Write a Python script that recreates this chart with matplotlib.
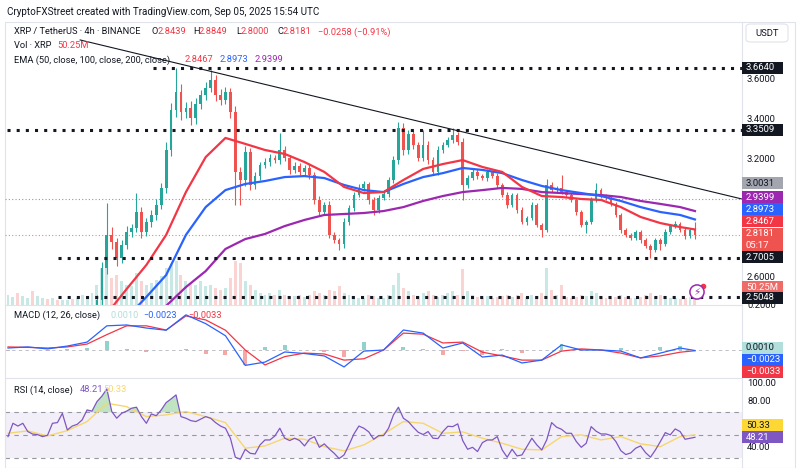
import matplotlib
matplotlib.use('Agg')
import matplotlib.pyplot as plt
from matplotlib.patches import Rectangle, FancyBboxPatch
from matplotlib.lines import Line2D
import numpy as np

plt.rcParams['font.family'] = ['Roboto', 'DejaVu Sans']

W, H = 800, 468

# ---- price data (4h candles, XRP/USDT) ----
first_open = 2.19
closes = [2.20, 2.21, 2.19, 2.22, 2.24, 2.23, 2.26, 2.28, 2.27, 2.30,
          2.29, 2.31, 2.33, 2.32, 2.35, 2.38, 2.40, 2.43, 2.490, 2.652,
          2.819, 2.783, 2.702, 2.768, 2.834, 2.854, 2.935, 2.834, 2.884, 2.920,
          2.971, 3.057, 3.249, 3.451, 3.542, 3.441, 3.461, 3.411, 3.482, 3.527,
          3.563, 3.603, 3.527, 3.502, 3.542, 3.441, 3.138, 3.097, 3.239, 3.072,
          3.117, 3.173, 3.188, 3.209, 3.198, 3.249, 3.209, 3.148, 3.168, 3.138,
          3.158, 3.122, 2.996, 2.935, 2.971, 2.819, 2.793, 2.773, 2.884, 2.955,
          3.021, 3.057, 3.077, 2.996, 2.945, 3.006, 3.026, 3.097, 3.198, 3.360,
          3.249, 3.330, 3.274, 3.209, 3.274, 3.198, 3.138, 3.249, 3.274, 3.300,
          3.325, 3.290, 3.072, 3.107, 3.138, 3.117, 3.107, 3.138, 3.117, 3.072,
          3.021, 2.971, 3.021, 2.945, 2.884, 2.905, 2.971, 2.869, 2.844, 3.072,
          3.046, 3.057, 3.036, 3.021, 2.996, 2.935, 2.869, 2.884, 2.996, 3.046,
          3.016, 3.006, 2.976, 2.920, 2.844, 2.819, 2.803, 2.834, 2.793, 2.763,
          2.743, 2.793, 2.773, 2.834, 2.864, 2.874, 2.844, 2.814, 2.8439, 2.8181]
# wick sizes above / below the body, in thousandths of a USDT
wick_up = [12, 8, 15, 10, 9, 14, 11, 8, 13, 10, 12, 9, 15, 11, 10, 13, 18, 20,
           25, 30, 162, 40, 20, 25, 30, 20, 96, 25, 20, 25,
           30, 25, 40, 35, 122, 40, 30, 35, 30, 25,
           30, 51, 25, 30, 25, 20, 30, 25, 30, 20,
           20, 15, 18, 20, 15, 86, 20, 15, 18, 15,
           15, 20, 15, 18, 15, 20, 15, 12, 20, 15,
           15, 18, 15, 12, 15, 15, 18, 15, 20, 30,
           25, 20, 18, 15, 76, 20, 15, 20, 18, 15,
           35, 15, 20, 15, 18, 15, 12, 15, 12, 15,
           12, 15, 12, 10, 15, 12, 15, 10, 12, 30,
           15, 12, 65, 12, 10, 12, 10, 12, 15, 36,
           12, 10, 12, 10, 12, 8, 10, 12, 10, 8,
           10, 12, 10, 15, 12, 15, 10, 12, 10, 41]
wick_dn = [10, 12, 9, 11, 14, 10, 8, 12, 10, 13, 9, 11, 10, 12, 8, 10, 12, 15,
           20, 25, 30, 35, 40, 25, 20, 25, 20, 30, 20, 25,
           25, 20, 25, 30, 35, 40, 30, 35, 30, 25,
           25, 20, 30, 25, 20, 30, 167, 126, 30, 25,
           20, 18, 15, 18, 15, 20, 15, 18, 15, 18,
           15, 18, 20, 18, 15, 18, 15, 30, 18, 15,
           15, 12, 15, 18, 25, 15, 12, 15, 15, 20,
           25, 18, 20, 15, 15, 20, 18, 15, 15, 12,
           15, 18, 76, 15, 12, 15, 12, 15, 12, 15,
           12, 15, 12, 15, 12, 15, 10, 12, 35, 12,
           12, 10, 12, 10, 12, 15, 12, 40, 12, 10,
           12, 10, 12, 10, 15, 12, 10, 12, 15, 10,
           42, 12, 30, 12, 10, 12, 10, 15, 12, 18]
volume_m = [30, 25, 35, 28, 22, 40, 26, 20, 18, 22, 15, 16, 14, 18, 20, 30, 25, 35,
            60, 110, 120, 80, 90, 70, 60, 55, 95, 70, 60, 65,
            75, 85, 110, 120, 130, 90, 70, 65, 60, 70,
            55, 60, 50, 45, 50, 80, 130, 125, 70, 60,
            45, 35, 30, 35, 30, 45, 30, 25, 28, 30,
            25, 30, 40, 35, 30, 45, 40, 55, 35, 30,
            25, 20, 22, 30, 28, 22, 20, 30, 60, 95,
            50, 40, 30, 28, 35, 40, 30, 25, 30, 35,
            40, 30, 105, 40, 30, 25, 22, 28, 20, 25,
            28, 30, 25, 30, 35, 25, 30, 28, 35, 110,
            45, 30, 60, 25, 22, 25, 30, 28, 40, 35,
            25, 20, 22, 25, 30, 25, 20, 22, 25, 30,
            35, 25, 30, 28, 22, 20, 18, 20, 25, 50.25]

# indicators sampled every 4th candle (plus the last one)
ind_idx = list(range(0, 140, 4)) + [139]
ema50 = [2.20, 2.22, 2.25, 2.29, 2.33, 2.42, 2.545, 2.667, 2.819, 3.036,
         3.213, 3.31, 3.28, 3.249, 3.229, 3.188, 3.138, 3.062, 3.031, 3.036,
         3.097, 3.153, 3.178, 3.198, 3.163, 3.138, 3.062, 3.016, 3.011, 3.001,
         2.996, 2.960, 2.910, 2.879, 2.859, 2.8467]
ema100 = [2.15, 2.17, 2.19, 2.22, 2.25, 2.30, 2.40, 2.505, 2.616, 2.819,
          2.960, 3.046, 3.077, 3.092, 3.112, 3.117, 3.107, 3.072, 3.046, 3.036,
          3.077, 3.112, 3.132, 3.158, 3.148, 3.132, 3.097, 3.067, 3.046, 3.031,
          3.016, 2.991, 2.960, 2.935, 2.920, 2.8973]
ema200 = [2.10, 2.11, 2.12, 2.14, 2.16, 2.24, 2.30, 2.36, 2.46, 2.555,
          2.636, 2.748, 2.798, 2.824, 2.864, 2.895, 2.920, 2.925, 2.930, 2.940,
          2.960, 2.991, 3.016, 3.036, 3.046, 3.057, 3.052, 3.036, 3.031, 3.026,
          3.021, 3.011, 2.991, 2.976, 2.960, 2.9399]
macd_line = [0.009, 0.014, 0.005, 0.018, 0.036, 0.110, 0.114, 0.100, 0.090, 0.160,
             0.120, 0.065, -0.070, -0.055, -0.009, -0.016, -0.027, -0.077, -0.005, 0.000,
             0.091, 0.077, 0.009, 0.032, -0.032, -0.023, -0.059, -0.046, 0.023, 0.000,
             0.000, -0.005, -0.036, -0.014, 0.009, -0.0023]
macd_signal = [0.014, 0.012, 0.009, 0.014, 0.027, 0.070, 0.110, 0.110, 0.091, 0.155,
               0.137, 0.090, 0.000, -0.068, -0.030, -0.014, -0.018, -0.046, -0.040, 0.000,
               0.077, 0.072, 0.032, 0.036, -0.010, -0.027, -0.046, -0.046, -0.005, 0.005,
               0.000, -0.014, -0.036, -0.027, -0.010, -0.0033]
rsi = [48.8, 60.4, 58.0, 60.4, 53.2, 51.0, 50.5, 48.8, 50.0, 60.4,
       61.0, 69.0, 54.6, 58.0, 59.5, 63.3, 72.0, 71.0, 79.3, 84.0,
       90.3, 70.6, 64.8, 69.1, 71.0, 73.5, 74.4, 66.2, 60.4, 68.5,
       67.0, 72.0, 78.4, 81.6, 85.1, 66.2, 64.8, 62.7, 61.9, 64.0,
       66.2, 64.8, 61.0, 58.0, 56.1, 47.4, 30.9, 29.1, 37.8, 34.3,
       33.7, 41.6, 45.9, 45.9, 49.4, 56.1, 47.4, 45.4, 47.4, 45.4,
       40.7, 46.5, 48.8, 39.5, 42.5, 38.1, 34.3, 29.7, 32.9, 41.6,
       51.1, 58.0, 56.1, 52.9, 46.5, 49.7, 49.7, 56.1, 67.7, 74.4,
       64.8, 61.9, 57.0, 52.6, 50.6, 53.2, 47.4, 47.1, 53.2, 57.8,
       57.5, 59.9, 45.4, 37.8, 39.5, 35.8, 43.6, 45.9, 45.9, 48.8,
       37.2, 30.9, 37.8, 32.0, 32.9, 40.1, 47.4, 41.6, 37.2, 45.9,
       61.0, 57.0, 55.2, 51.7, 51.7, 44.5, 39.5, 43.0, 57.5, 53.5,
       51.1, 51.1, 49.7, 44.5, 36.6, 33.2, 34.6, 38.7, 40.7, 34.9,
       30.9, 37.2, 44.5, 52.3, 50.3, 55.5, 53.2, 46.5, 47.4, 48.21]
rsi_ma = [51.7, 53.8, 49.4, 54.0, 61.9, 77.8, 74.9, 66.2, 67.7, 70.6,
          66.2, 61.0, 38.7, 40.7, 47.4, 46.5, 40.1, 36.4, 41.6, 51.1,
          61.9, 60.4, 51.7, 52.9, 47.4, 43.0, 37.8, 37.2, 48.8, 50.3,
          45.9, 48.8, 42.5, 40.1, 48.8, 50.33]

# drawn levels
bold_levels = [3.6640, 3.3509, 2.7005, 2.5048]
bold_level_start = [29.3, -0.2, 10.1, 10.1]
gray_level = 3.0031
trend_x = [14.6, 148.5]
trend_y = [3.806, 3.001]

UP, DOWN = '#26a69a', '#ef5350'
TXT = '#131722'
XLIM = (-0.607, 148.52)


def px_box(left, top, right, bottom):
    return [left / W, 1 - bottom / H, (right - left) / W, (bottom - top) / H]


def fy(ypx):
    return 1 - ypx / H


fig = plt.figure(figsize=(8, 4.68), dpi=100)
fig.patch.set_facecolor('white')

ax = fig.add_axes(px_box(5, 22, 742, 305))
ax_vol = ax.twinx()
ax_macd = fig.add_axes(px_box(5, 305, 742, 378))
ax_rsi = fig.add_axes(px_box(5, 378, 742, 468))
ax.set_zorder(ax_vol.get_zorder() + 1)
for a in (ax, ax_vol, ax_macd, ax_rsi):
    a.set_axis_off()
    a.set_xlim(*XLIM)

# ---- main pane ----
idx = np.arange(len(closes))
c = np.array(closes)
o = np.array([first_open] + closes[:-1])
hi = np.maximum(o, c) + np.array(wick_up) / 1000
lo = np.minimum(o, c) - np.array(wick_dn) / 1000
colors = [UP if cc >= oo else DOWN for oo, cc in zip(o, c)]

ax_vol.bar(idx, volume_m, width=0.6, color=colors, alpha=0.25, linewidth=0)
ax_vol.set_ylim(0, 836)

ax.vlines(idx, lo, hi, colors=colors, lw=0.8, zorder=3)
ax.bar(idx, np.maximum(np.abs(c - o), 0.003), bottom=np.minimum(o, c),
       width=0.55, color=colors, linewidth=0, zorder=4)

ax.plot(ind_idx, ema200, color='#9c27b0', lw=1.6, zorder=5)
ax.plot(ind_idx, ema100, color='#2962ff', lw=1.6, zorder=5)
ax.plot(ind_idx, ema50, color='#f23645', lw=1.6, zorder=5)

for lvl, x0 in zip(bold_levels, bold_level_start):
    ax.hlines(lvl, x0, XLIM[1], colors=TXT, linestyles=(0, (1, 2)), lw=2.2, zorder=6)
ax.axhline(gray_level, color='#9598a1', ls=(0, (1, 2)), lw=0.8, zorder=2)
ax.axhline(closes[-1], color='#e08a8a', ls=(0, (1, 2)), lw=0.8, zorder=2)
ax.plot(trend_x, trend_y, color=TXT, lw=0.8, zorder=6)
ax.set_ylim(2.4643, 3.897)

# ---- MACD pane ----
hist = np.array(macd_line) - np.array(macd_signal)
hcol = ['#26a69a' if h >= 0 else '#ef5350' for h in hist]
ax_macd.bar(ind_idx, hist, width=0.8, color=hcol, alpha=0.5, linewidth=0)
ax_macd.axhline(0, color='#b2b5be', ls=(0, (4, 4)), lw=0.6)
ax_macd.plot(ind_idx, macd_signal, color='#f23645', lw=0.9)
ax_macd.plot(ind_idx, macd_line, color='#2962ff', lw=0.9)
ax_macd.set_ylim(-0.1274, 0.2048)

# ---- RSI pane ----
r = np.array(rsi)
ax_rsi.axhspan(30, 70, color='#7e57c2', alpha=0.09, lw=0)
for lvl in (70, 50, 30):
    ax_rsi.axhline(lvl, color='#9598a1', ls=(0, (4, 4)), lw=0.8)
ax_rsi.fill_between(idx, 70, r, where=r > 70, interpolate=True,
                    color='#4caf50', alpha=0.35, lw=0)
ax_rsi.plot(ind_idx, rsi_ma, color='#f5d76e', lw=1.0)
ax_rsi.plot(idx, r, color='#7e57c2', lw=0.9)
ax_rsi.set_ylim(21.5, 99.8)

# ---- separators / frame ----
for y in (305, 378):
    fig.add_artist(Line2D([5 / W, 742 / W], [fy(y), fy(y)], color='#e0e3eb', lw=0.8))
fig.add_artist(Line2D([742 / W, 742 / W], [fy(22), 0], color='#e0e3eb', lw=0.8))
fig.add_artist(Rectangle((5 / W, 0), 790 / W, (H - 22) / H, transform=fig.transFigure,
                         fill=False, ec='#e0e3eb', lw=0.8))

# ---- header / legends ----
fig.text(7 / W, fy(12), 'CryptoFXStreet created with TradingView.com, Sep 05, 2025 15:54 UTC',
         fontsize=7.1, color=TXT, va='center')


def legend_row(y, parts, size=6.7):
    for x, s, col in parts:
        fig.text(x / W, fy(y), s, fontsize=size, color=col, va='center')


RED = '#f23645'
legend_row(32, [(14, 'XRP / TetherUS \u00b7 4h \u00b7 BINANCE', TXT),
                (152, 'O', TXT), (158, '2.8439', RED),
                (193, 'H', TXT), (199, '2.8849', RED),
                (236, 'L', TXT), (241, '2.8000', RED),
                (277, 'C', TXT), (283, '2.8181', RED),
                (318, '\u22120.0258 (\u22120.91%)', RED)])
legend_row(46, [(14, 'Vol \u00b7 XRP', TXT), (57, '50.25M', RED)])
legend_row(60, [(14, 'EMA (50, close, 100, close, 200, close)', TXT),
                (185, '2.8467', '#f23645'), (220, '2.8973', '#2962ff'),
                (255, '2.9399', '#9c27b0')])
legend_row(315, [(14, 'MACD (12, 26, close)', TXT), (110, '0.0010', '#b2dfdb'),
                 (143, '\u22120.0023', '#2962ff'), (188, '\u22120.0033', '#f23645')])
legend_row(390, [(14, 'RSI (14, close)', TXT), (80, '48.21', '#7e57c2'),
                 (103, '50.33', '#f5d76e')])

# ---- right scale ----
fig.add_artist(FancyBboxPatch((746 / W, fy(42)), 42 / W, 18 / H, transform=fig.transFigure,
                              boxstyle='round,pad=0,rounding_size=0.006', fc='white',
                              ec='#e0e3eb', lw=0.8))
fig.text(767 / W, fy(33), 'USDT', fontsize=6.8, color=TXT, ha='center', va='center')

for y, s in [(80, '3.6000'), (120, '3.4000'), (159, '3.2000'), (278, '2.6000'),
             (306, '0.2000'), (383, '100.00'), (402, '80.00'), (448, '40.00')]:
    fig.text(747 / W, fy(y), s, fontsize=6.8, color=TXT, va='center', zorder=3)


def tag(y, text, bg, fg='white', h=12, sub=None):
    fig.add_artist(Rectangle((742 / W, fy(y + h / 2)), 41 / W, h / H, zorder=4,
                             transform=fig.transFigure, fc=bg, ec='none'))
    if sub is None:
        fig.text(746 / W, fy(y), text, fontsize=6.8, color=fg, va='center', zorder=5)
    else:
        fig.text(746 / W, fy(y - 5.5), text, fontsize=6.8, color=fg, va='center', zorder=5)
        fig.text(746 / W, fy(y + 5.5), sub, fontsize=6.8, color=fg, va='center', zorder=5)


tag(68, '3.6640', TXT)
tag(130, '3.3509', TXT)
tag(183, '3.0031', '#a3a6af', fg=TXT)
tag(197, '2.9399', '#9c27b0')
tag(209, '2.8973', '#2962ff')
tag(221, '2.8467', '#f23645')
tag(239.5, '2.8181', '#ef5350', h=23, sub='05:17')
tag(257, '2.7005', TXT)
tag(287, '50.25M', '#ef6b68')
tag(298, '2.5048', TXT)
tag(348, '0.0010', '#b2dfdb', fg=TXT)
tag(360, '\u22120.0023', '#2962ff')
tag(372, '\u22120.0033', '#f23645')
tag(425, '50.33', '#fdd835', fg=TXT)
tag(437, '48.21', '#7e57c2')

# alert icon near the last candle
fig.text(697 / W, fy(292), '\u26a1', fontsize=7.5, color='#9c27b0', ha='center', va='center',
         family='DejaVu Sans',
         bbox=dict(boxstyle='circle,pad=0.2', fc='white', ec='#9c27b0', lw=1.1))
fig.add_artist(Line2D([703 / W], [fy(286)], marker='o', ms=3, color='#f23645',
                      transform=fig.transFigure))

fig.savefig('out.png', dpi=100, facecolor='white')
